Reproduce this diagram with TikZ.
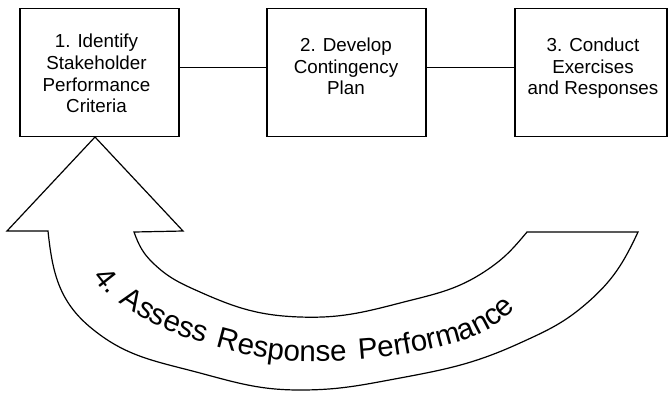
\documentclass[tikz,border=0pt]{standalone}
\usepackage{fontspec}
\setmainfont{Liberation Sans}
\usetikzlibrary{decorations.text}
\begin{document}
\begin{tikzpicture}[x=1pt,y=1pt,
  box/.style={draw, line width=1.2pt, minimum height=128pt, inner sep=0pt},
  boxtext/.style={align=center, font=\fontsize{18.8}{21.7}\selectfont, inner sep=0pt},
  link/.style={line width=1.2pt},
  bigarrow/.style={draw, line width=1.2pt, fill=white, line join=miter}]
\useasboundingbox (0,0) rectangle (668,-392);
% boxes
\node[box, minimum width=159pt] (b1) at (99.5,-72.8) {};
\node[box, minimum width=159pt] (b2) at (346.5,-72.8) {};
\node[box, minimum width=152pt] (b3) at (591,-72.8) {};
\node[boxtext] (t1) at (96.5,-73.5) {1. Identify\\Stakeholder\\Performance\\Criteria};
\node[boxtext] (t2) at (346,-66.3) {2. Develop\\Contingency\\Plan};
\node[boxtext] (t3) at (593,-68.2) {3. Conduct\\Exercises\\and Responses};
% connectors
\draw[link] ([yshift=5.5pt]b1.east) -- ([yshift=5.5pt]b2.west);
\draw[link] ([yshift=5.5pt]b2.east) -- ([yshift=5.5pt]b3.west);
% curved feedback arrow
\path[bigarrow] (95,-137) -- (7,-231) -- (48,-231)
  to[out=-84,in=140] (90,-327)
  to[out=-40,in=165] (200,-373)
  to[out=-15,in=180] (300,-390)
  to[out=0,in=190.5] (400,-378)
  to[out=10.5,in=204.5] (520,-343)
  to[out=24.5,in=221] (587,-303)
  to[out=41,in=245] (638,-232)
  -- (527,-232)
  to[out=230,in=34] (487,-270)
  to[out=214,in=14.5] (400,-303)
  to[out=194.5,in=-2] (300,-317)
  to[out=178,in=-24] (200,-292)
  to[out=156,in=-44] (153,-263)
  to[out=136,in=-70] (134,-232)
  -- (183,-231) -- cycle;
\path[decorate, decoration={text along path,
  text={|\fontsize{29.5}{31}\selectfont|4. Assess Response Performance},
  text align={fit to path stretching spaces}}]
  (93,-277) to[out=-55,in=147] (125,-307)
  to[out=-33,in=164] (207,-344)
  to[out=-16,in=183] (333,-361)
  to[out=3,in=192] (427,-350)
  to[out=12,in=210] (492,-327)
  to[out=30,in=222] (516,-308);
\end{tikzpicture}
\end{document}
